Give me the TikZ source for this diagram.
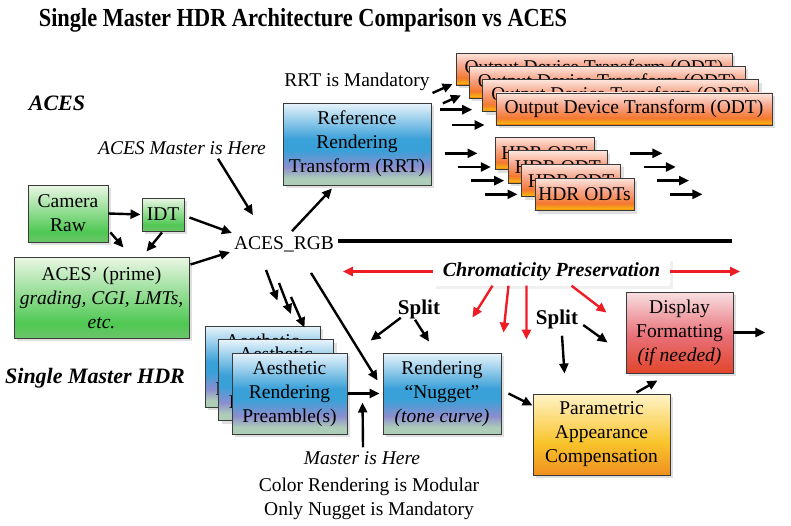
\documentclass[tikz,border=0pt]{standalone}
\usepackage{fontspec}
\setmainfont{Liberation Serif}
\usetikzlibrary{arrows.meta,shadows}
\definecolor{boxline}{HTML}{3A3A3A}
\definecolor{arrred}{HTML}{EE1C25}
\definecolor{grnbot}{HTML}{6CC46A}
\definecolor{grnmid}{HTML}{4FC853}
\definecolor{grntop}{HTML}{EAF7E4}
\definecolor{blubot}{HTML}{ADCDB8}
\definecolor{blupur}{HTML}{8C8ECE}
\definecolor{blumid}{HTML}{3AA0D8}
\definecolor{blutop}{HTML}{E8F4FB}
\definecolor{odtedge}{HTML}{E84A10}
\definecolor{odtyel}{HTML}{F8B010}
\definecolor{odtorg}{HTML}{F47830}
\definecolor{odtmid}{HTML}{F7A58A}
\definecolor{odttop}{HTML}{FDE6DD}
\definecolor{dispbot}{HTML}{E2452A}
\definecolor{dispmid}{HTML}{E87078}
\definecolor{disptop}{HTML}{F8E0E2}
\definecolor{parbot}{HTML}{EF9020}
\definecolor{parmid}{HTML}{F9C42C}
\definecolor{partop}{HTML}{FFF4C8}
\pgfdeclareverticalshading{greenbox}{100bp}{color(0bp)=(grnbot); color(25bp)=(grnbot); color(34bp)=(grnmid); color(75bp)=(grntop); color(100bp)=(grntop)}
\pgfdeclareverticalshading{bluebox}{100bp}{color(0bp)=(blubot); color(25bp)=(blubot); color(29bp)=(blubot); color(36bp)=(blupur); color(46bp)=(blumid); color(53bp)=(blumid); color(75bp)=(blutop); color(100bp)=(blutop)}
\pgfdeclareverticalshading{odtbox}{100bp}{color(0bp)=(odtedge); color(25bp)=(odtedge); color(28bp)=(odtyel); color(36bp)=(odtorg); color(55bp)=(odtmid); color(75bp)=(odttop); color(100bp)=(odttop)}
\pgfdeclareverticalshading{dispbox}{100bp}{color(0bp)=(dispbot); color(25bp)=(dispbot); color(48bp)=(dispmid); color(75bp)=(disptop); color(100bp)=(disptop)}
\pgfdeclareverticalshading{parbox}{100bp}{color(0bp)=(parbot); color(25bp)=(parbot); color(45bp)=(parmid); color(75bp)=(partop); color(100bp)=(partop)}
\tikzset{
	box/.style={draw=boxline,line width=0.9pt,align=center,inner sep=2pt,shade,
		drop shadow={opacity=0.25,shadow xshift=3pt,shadow yshift=-3pt}},
	label/.style={inner sep=1pt,align=center},
	heading/.style={label,font=\fontsize{22}{26}\selectfont\bfseries\itshape},
	splitlabel/.style={label,font=\fontsize{21}{24}\selectfont\bfseries},
	arr/.style={line width=2.4pt,-{Triangle[length=10pt,width=9pt]}},
	redarr/.style={arr,draw=arrred,-{Triangle[length=10pt,width=9pt,fill=arrred]}},
}
\begin{document}
\begin{tikzpicture}[x=1pt,y=-1pt,font=\fontsize{19.5}{24}\selectfont]
	\useasboundingbox (0,0) rectangle (791,525);
	\node[label] (title) at (303,20) {\scalebox{0.86}[1]{\fontsize{26}{28}\selectfont\bfseries Single Master HDR Architecture Comparison vs ACES}};
	\node[heading] (aces) at (57,103) {ACES};
	\node[heading] (single) at (95,378) {Single Master HDR};
	\node[box,shading=greenbox,minimum width=80pt,minimum height=57pt] (cam) at (68,213.5) {Camera\\Raw};
	\node[box,shading=greenbox,minimum width=42pt,minimum height=33pt] (idt) at (163,214.5) {IDT};
	\node[box,shading=greenbox,minimum width=175pt,minimum height=81pt] (prime) at (101.5,297.5) {ACES’ (prime)\\\textit{grading, CGI, LMTs,}\\\textit{etc.}};
	\node[label,font=\fontsize{19.5}{24}\selectfont\itshape] (master) at (182,148) {ACES Master is Here};
	\node[label] (rgb) at (284,244) {ACES\_RGB};
	\node[box,shading=bluebox,minimum width=148pt,minimum height=82pt] (rrt) at (357,144) {Reference\\Rendering\\Transform (RRT)};
	\node[label] (mand) at (357,82) {RRT is Mandatory};
	\foreach \i in {1,2,3,4}
		\node[box,shading=odtbox,minimum width=276pt,minimum height=32pt] (odt\i) at ({594+13.33*(\i-1)},{69+13.33*(\i-1)}) {Output Device Transform (ODT)};
	\foreach \i in {1,2,3}
		\node[box,shading=odtbox,minimum width=99pt,minimum height=32.5pt] (hdr\i) at ({544.5+13.33*(\i-1)},{153.3+13.67*(\i-1)}) {HDR ODT};
	\node[box,shading=odtbox,minimum width=99pt,minimum height=32.5pt] (hdr4) at (584.5,194.3) {HDR ODTs};
	\coordinate (lineend) at (732,241);

	\draw[arr,shorten >=1pt] (cam.east) -- (idt.west);
	\draw[arr] ([shift={(2,-10)}]cam.south east) -- ([shift={(22,-9)}]prime.north);
	\draw[arr] ([shift={(-1,1)}]idt.south) -- ([shift={(45,-5)}]prime.north);
	\draw[arr] ([shift={(36,3)}]master.south) -- ([shift={(20,-20)}]rgb.north west);
	\draw[arr] ([shift={(5,3)}]idt.east) -- ([shift={(-1,-11)}]rgb.west);
	\draw[arr] ([shift={(1,8)}]prime.north east) -- ([shift={(-3,8)}]rgb.west);
	\draw[arr] ([shift={(8,-4)}]rgb.north) -- ([shift={(-25,3)}]rrt.south);
	\draw[line width=4pt] ([shift={(3,-3)}]rgb.east) -- (lineend);
	\draw[arr] ([shift={(-23,24)}]odt1.west) -- ([shift={(-3,15)}]odt1.west);
	\draw[arr] ([shift={(-26,21)}]odt2.west) -- ([shift={(-8,13)}]odt2.west);
	\draw[arr] ([shift={(-42,14)}]odt3.west) -- ([shift={(-10,14)}]odt3.west);
	\draw[arr] ([shift={(-44,16)}]odt4.west) -- ([shift={(-11,16)}]odt4.west);
	\foreach \i in {1,2,3,4} {
		\draw[arr] ([shift={(-50,0)}]hdr\i.west) -- ([shift={(-17,0)}]hdr\i.west);
		\draw[arr] ([shift={(36,0)}]hdr\i.east) -- ([shift={(68,0)}]hdr\i.east);
	}

	\foreach \i in {1,2,3}
		\node[box,shading=bluebox,minimum width=115pt,minimum height=81pt] (pre\i) at ({262.5+13.5*(\i-1)},{366.5+13.5*(\i-1)}) {Aesthetic\\Rendering\\Preamble(s)};
	\node[box,shading=bluebox,minimum width=118pt,minimum height=81pt] (nugget) at (442,393.5) {Rendering\\“Nugget”\\\textit{(tone curve)}};
	\node[box,shading=parbox,minimum width=137pt,minimum height=81pt] (param) at (601.5,434.5) {Parametric\\Appearance\\Compensation};
	\node[box,shading=dispbox,minimum width=107pt,minimum height=81pt] (disp) at (679.5,332.5) {Display\\Formatting\\\textit{(if needed)}};
	\node[label,fill=white,minimum width=237pt,minimum height=28pt,font=\fontsize{20}{24}\selectfont\bfseries\itshape,
		drop shadow={opacity=0.12,shadow xshift=3pt,shadow yshift=-3pt}] (chroma) at (551.5,271.5) {Chromaticity Preservation};
	\node[splitlabel] (split1) at (419,309) {Split};
	\node[splitlabel] (split2) at (557,319) {Split};
	\node[label,font=\fontsize{19.5}{24}\selectfont\itshape] (here) at (362,458) {Master is Here};
	\node[label] (modular) at (369,498.5) {Color Rendering is Modular\\Only Nugget is Mandatory};

	\foreach \i/\dx/\dy in {1/-18/17,2/-5/30,3/7/44}
		\draw[arr] ([shift={(\dx,\dy)}]rgb.south) -- ([shift={(-43,-25)}]pre\i.north east);
	\draw[arr] ([shift={(27,20)}]rgb.south) -- ([shift={(-5,-13)}]nugget.west);
	\draw[arr,shorten <=1pt,shorten >=3pt] (pre3.east) -- (nugget.west);
	\draw[arr] ([shift={(1,-3)}]here.north) -- ([shift={(-20,9)}]nugget.west);
	\draw[arr] ([shift={(4,-2)}]split1.south west) -- ([shift={(-12,-12)}]nugget.north west);
	\draw[arr] ([shift={(-4,0)}]split1.south) -- ([shift={(-13,-11)}]nugget.north);
	\draw[redarr] (chroma.west) -- ([shift={(-90,0)}]chroma.west);
	\draw[redarr] (chroma.east) -- ([shift={(70,0)}]chroma.east);
	\draw[redarr] ([shift={(-59,0)}]chroma.south) -- ([shift={(-29,-35)}]nugget.north east);
	\draw[redarr] ([shift={(-43,0)}]chroma.south) -- ([shift={(2,-20)}]nugget.north east);
	\draw[redarr] ([shift={(-25,0)}]chroma.south) -- ([shift={(25,-13)}]nugget.north east);
	\draw[redarr] ([shift={(20,0)}]chroma.south) -- ([shift={(-19,21)}]disp.north west);
	\draw[arr] ([shift={(5,6)}]split2.south) -- ([shift={(-37,-20)}]param.north);
	\draw[arr] ([shift={(4,6)}]split2.east) -- ([shift={(-18,10)}]disp.west);
	\draw[arr] ([shift={(7,0)}]nugget.east) -- ([shift={(0,12)}]param.north west);
	\draw[arr] ([shift={(35,-1)}]param.north) -- ([shift={(-22,7)}]disp.south);
	\draw[arr] (disp.east) -- ([shift={(32,0)}]disp.east);
\end{tikzpicture}
\end{document}
